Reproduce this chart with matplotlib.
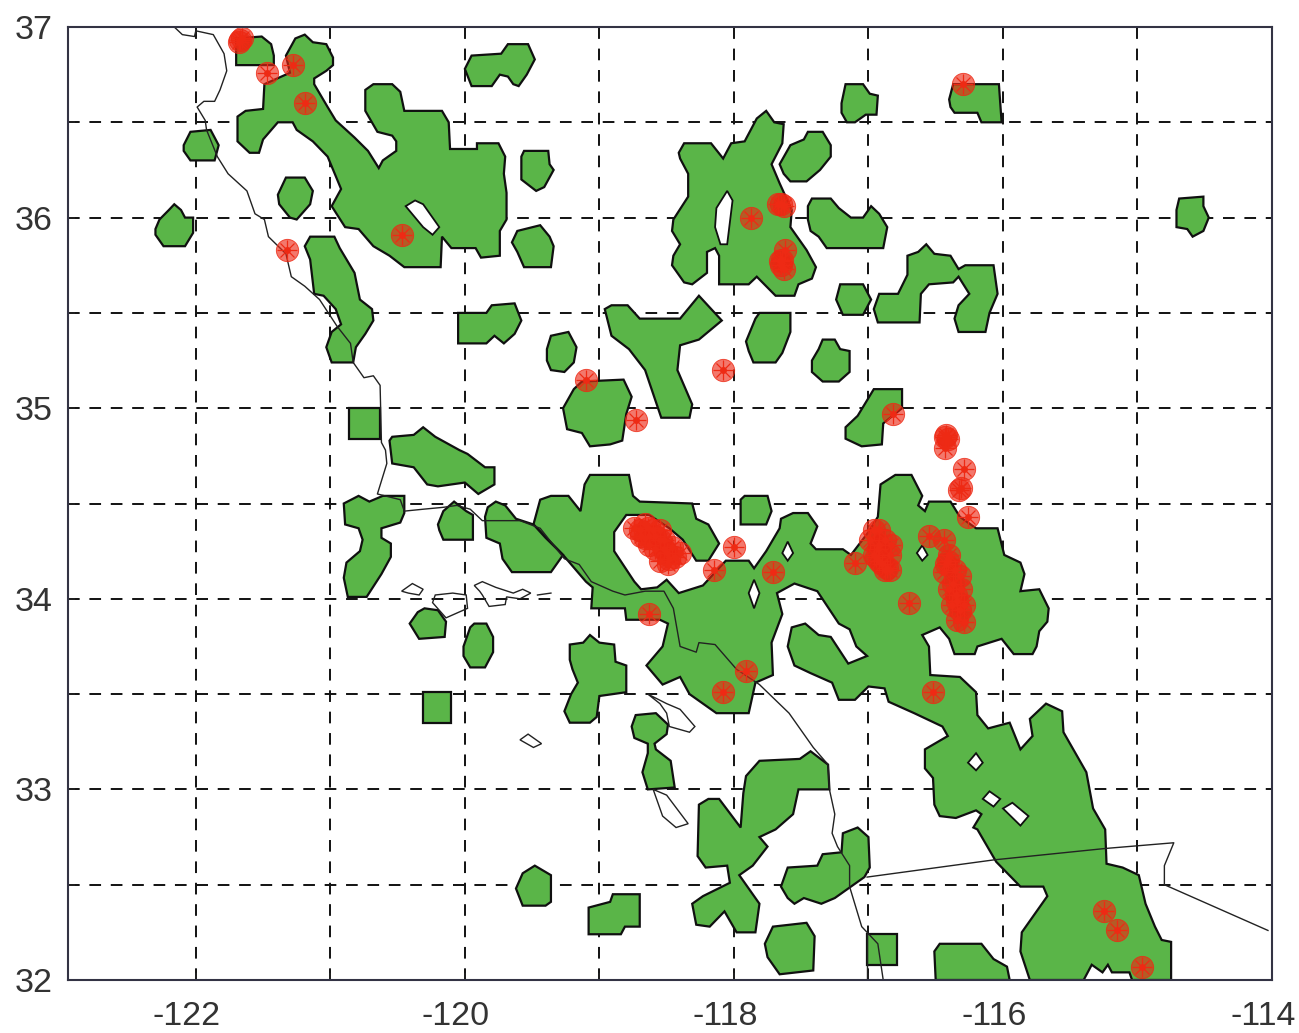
"""Fire points over green vegetation patches, southern California map."""
import matplotlib
matplotlib.use("Agg")
import matplotlib.pyplot as plt
from matplotlib.transforms import ScaledTranslation

plt.rcParams["font.family"] = ["Liberation Sans", "DejaVu Sans"]

GREEN = "#5ab548"
RED = "#ee2a14"

# all shapes below are (lon, lat)
top_square = [(-121.70,36.80),(-121.70,36.94),(-121.51,36.95),(-121.44,36.91),(-121.42,36.85),(-121.42,36.80)]
big_sierra = [(-121.26,36.94),(-121.19,36.96),(-121.13,36.92),(-121.03,36.91),(-120.98,36.84),(-120.98,36.80),
    (-121.03,36.77),(-121.12,36.73),(-121.12,36.70),(-121.02,36.58),(-120.96,36.51),(-120.82,36.42),(-120.72,36.35),
    (-120.64,36.26),(-120.61,36.30),(-120.51,36.35),(-120.51,36.40),(-120.54,36.43),(-120.65,36.45),(-120.74,36.56),
    (-120.74,36.67),(-120.68,36.70),(-120.54,36.70),(-120.48,36.66),(-120.45,36.56),(-120.17,36.56),(-120.12,36.50),
    (-120.11,36.36),(-119.91,36.36),(-119.91,36.39),(-119.75,36.39),(-119.70,36.32),(-119.71,36.23),(-119.69,36.13),
    (-119.69,35.99),(-119.74,35.93),(-119.74,35.80),(-119.88,35.79),(-119.92,35.84),(-120.10,35.84),(-120.17,35.90),
    (-120.18,35.74),(-120.45,35.74),(-120.56,35.80),(-120.68,35.85),(-120.79,35.94),(-120.89,35.95),(-120.99,36.06),
    (-120.92,36.15),(-121.02,36.32),(-121.13,36.40),(-121.25,36.46),(-121.28,36.50),(-121.39,36.50),(-121.50,36.41),
    (-121.53,36.34),(-121.60,36.34),(-121.69,36.40),(-121.69,36.53),(-121.63,36.56),(-121.50,36.57),(-121.49,36.70),
    (-121.30,36.76),(-121.33,36.85)]
north_blob = [(-120.00,36.78),(-119.95,36.85),(-119.73,36.86),(-119.68,36.91),(-119.53,36.91),(-119.48,36.83),
    (-119.54,36.75),(-119.60,36.69),(-119.64,36.70),(-119.68,36.74),(-119.74,36.75),(-119.80,36.69),(-119.95,36.69)]
bay_blob = [(-122.09,36.38),(-122.04,36.45),(-121.89,36.46),(-121.83,36.38),(-121.86,36.30),(-122.04,36.30),(-122.09,36.35)]
coast_blob = [(-121.39,36.12),(-121.33,36.21),(-121.19,36.21),(-121.13,36.14),(-121.15,36.07),(-121.25,35.99),(-121.30,36.00),(-121.38,36.07)]
west_blob = [(-122.30,35.94),(-122.27,35.99),(-122.20,36.04),(-122.16,36.07),(-122.11,36.04),(-122.08,36.00),(-122.02,36.00),
    (-122.02,35.92),(-122.08,35.85),(-122.24,35.85),(-122.30,35.91)]
fresno_a = [(-119.65,35.87),(-119.61,35.93),(-119.44,35.96),(-119.37,35.90),(-119.34,35.85),(-119.36,35.74),(-119.56,35.74),(-119.61,35.82)]
fresno_b = [(-119.58,36.32),(-119.56,36.35),(-119.38,36.35),(-119.37,36.28),(-119.34,36.25),(-119.41,36.16),(-119.47,36.14),(-119.58,36.20)]
coast_strip = [(-121.19,35.85),(-121.15,35.90),(-120.97,35.90),(-120.93,35.84),(-120.82,35.71),(-120.78,35.57),(-120.69,35.52),
    (-120.68,35.46),(-120.74,35.39),(-120.81,35.32),(-120.83,35.24),(-120.99,35.24),(-121.03,35.32),(-120.99,35.40),
    (-120.92,35.44),(-120.96,35.52),(-121.05,35.59),(-121.12,35.60),(-121.15,35.78)]
slo_square = [(-120.86,35.00),(-120.63,35.00),(-120.63,34.84),(-120.86,34.84)]
san_rafael = [(-120.56,34.83),(-120.54,34.85),(-120.38,34.86),(-120.31,34.90),(-120.22,34.85),(-120.04,34.78),(-119.98,34.76),
    (-119.85,34.69),(-119.78,34.69),(-119.78,34.60),(-119.90,34.55),(-120.00,34.61),(-120.20,34.59),(-120.28,34.60),(-120.38,34.69),(-120.54,34.71)]
kern_blob = [(-120.05,35.50),(-119.84,35.50),(-119.80,35.54),(-119.63,35.55),(-119.58,35.46),(-119.63,35.39),(-119.71,35.34),
    (-119.78,35.38),(-119.84,35.34),(-120.05,35.34)]
oval_blob = [(-119.39,35.31),(-119.36,35.38),(-119.23,35.40),(-119.17,35.32),(-119.19,35.24),(-119.26,35.19),(-119.36,35.20),(-119.39,35.25)]
tejon_blob = [(-119.27,35.00),(-119.19,35.10),(-119.13,35.14),(-118.82,35.15),(-118.76,35.06),(-118.80,34.97),(-118.83,34.83),
    (-118.92,34.81),(-119.07,34.80),(-119.13,34.87),(-119.24,34.89)]
y_blob = [(-118.96,35.52),(-118.91,35.54),(-118.79,35.54),(-118.70,35.47),(-118.40,35.47),(-118.26,35.59),(-118.09,35.46),
    (-118.26,35.36),(-118.40,35.33),(-118.42,35.20),(-118.31,35.02),(-118.33,34.95),(-118.54,34.95),(-118.66,35.20),
    (-118.78,35.31),(-118.91,35.38)]
inyo_a = [(-117.20,36.60),(-117.17,36.70),(-117.04,36.70),(-116.99,36.65),(-116.93,36.64),(-116.94,36.54),(-117.02,36.54),
    (-117.10,36.50),(-117.16,36.50),(-117.20,36.55)]
inyo_b = [(-116.40,36.62),(-116.37,36.70),(-116.03,36.70),(-116.01,36.50),(-116.16,36.50),(-116.19,36.55),(-116.36,36.55),(-116.39,36.58)]
owens = [(-118.41,36.34),(-118.37,36.39),(-118.17,36.39),(-118.08,36.31),(-118.02,36.39),(-117.92,36.40),(-117.83,36.52),
    (-117.76,36.56),(-117.70,36.50),(-117.63,36.49),(-117.64,36.39),(-117.72,36.28),(-117.66,36.18),(-117.57,36.04),
    (-117.58,35.95),(-117.46,35.83),(-117.39,35.74),(-117.42,35.68),(-117.52,35.65),(-117.55,35.59),(-117.69,35.59),
    (-117.83,35.69),(-117.89,35.65),(-118.11,35.65),(-118.11,35.80),(-118.14,35.84),(-118.20,35.82),(-118.20,35.71),
    (-118.31,35.65),(-118.37,35.66),(-118.46,35.75),(-118.45,35.80),(-118.40,35.86),(-118.46,35.93),(-118.45,35.99),
    (-118.34,36.11),(-118.34,36.23),(-118.40,36.31)]
owens_ne = [(-117.66,36.28),(-117.58,36.38),(-117.48,36.41),(-117.45,36.45),(-117.34,36.45),(-117.28,36.38),(-117.28,36.32),
    (-117.36,36.25),(-117.46,36.19),(-117.58,36.19),(-117.63,36.23)]
c_blob = [(-117.45,36.06),(-117.42,36.10),(-117.28,36.10),(-117.22,36.05),(-117.13,36.00),(-117.04,36.00),(-116.98,36.06),
    (-116.92,36.02),(-116.86,35.95),(-116.89,35.84),(-117.31,35.84),(-117.37,35.90),(-117.43,35.93),(-117.45,35.99)]
small_round = [(-117.24,35.57),(-117.21,35.65),(-117.04,35.65),(-116.98,35.57),(-117.04,35.49),(-117.19,35.49)]
m_blob = [(-116.96,35.52),(-116.92,35.60),(-116.78,35.60),(-116.71,35.70),(-116.71,35.80),(-116.63,35.82),(-116.57,35.86),
    (-116.51,35.81),(-116.39,35.80),(-116.33,35.73),(-116.28,35.75),(-116.07,35.75),(-116.04,35.60),(-116.10,35.50),
    (-116.13,35.40),(-116.33,35.40),(-116.36,35.47),(-116.33,35.54),(-116.25,35.60),(-116.33,35.69),(-116.37,35.66),
    (-116.55,35.65),(-116.61,35.60),(-116.62,35.45),(-116.93,35.45)]
mojave_a = [(-117.91,35.35),(-117.84,35.47),(-117.81,35.50),(-117.58,35.50),(-117.58,35.40),(-117.64,35.29),(-117.69,35.24),
    (-117.855,35.24),(-117.89,35.30)]
mojave_b = [(-117.42,35.25),(-117.37,35.31),(-117.34,35.36),(-117.25,35.36),(-117.21,35.31),(-117.14,35.30),(-117.14,35.19),
    (-117.22,35.14),(-117.34,35.14),(-117.42,35.19)]
barstow = [(-117.17,34.90),(-117.08,34.96),(-116.96,35.10),(-116.75,35.10),(-116.75,35.00),(-116.89,34.92),(-116.90,34.81),
    (-117.05,34.80),(-117.17,34.84)]
far_east = [(-114.71,36.04),(-114.69,36.10),(-114.51,36.11),(-114.51,36.06),(-114.47,36.00),(-114.51,35.93),(-114.59,35.90),
    (-114.63,35.94),(-114.71,35.95)]
vandenberg = [(-120.90,34.50),(-120.79,34.54),(-120.71,34.51),(-120.61,34.54),(-120.45,34.54),(-120.45,34.45),(-120.48,34.40),
    (-120.62,34.37),(-120.62,34.32),(-120.55,34.29),(-120.55,34.22),(-120.62,34.13),(-120.73,34.01),(-120.87,34.01),
    (-120.90,34.11),(-120.88,34.19),(-120.78,34.25),(-120.76,34.31),(-120.79,34.37),(-120.89,34.39)]
gaviota = [(-120.20,34.39),(-120.16,34.46),(-120.08,34.51),(-119.99,34.46),(-119.94,34.44),(-119.94,34.31),(-120.16,34.31),(-120.19,34.36)]
santa_ynez = [(-119.85,34.43),(-119.83,34.48),(-119.77,34.51),(-119.70,34.49),(-119.62,34.42),(-119.49,34.39),(-119.40,34.32),
    (-119.27,34.23),(-119.36,34.14),(-119.65,34.14),(-119.72,34.21),(-119.74,34.29),(-119.84,34.32)]
socal_main = [(-119.49,34.39),(-119.44,34.52),(-119.36,34.54),(-119.23,34.54),(-119.14,34.46),(-119.11,34.60),(-119.07,34.65),
    (-118.78,34.65),(-118.75,34.54),(-118.70,34.51),(-118.31,34.50),(-118.28,34.42),(-118.19,34.39),(-118.11,34.29),
    (-118.19,34.20),(-118.28,34.20),(-118.38,34.31),(-118.48,34.37),(-118.63,34.44),(-118.80,34.44),(-118.89,34.35),
    (-118.89,34.25),(-118.74,34.09),(-118.69,34.05),(-118.57,34.06),(-118.50,34.10),(-118.41,34.03),(-118.23,34.07),
    (-118.06,34.20),(-117.89,34.20),(-117.85,34.16),(-117.76,34.25),(-117.66,34.37),(-117.65,34.42),(-117.56,34.45),
    (-117.45,34.45),(-117.38,34.38),(-117.43,34.29),(-117.39,34.26),(-117.19,34.26),(-117.13,34.23),(-117.00,34.35),
    (-116.93,34.43),(-116.91,34.60),(-116.80,34.65),(-116.68,34.65),(-116.60,34.54),(-116.63,34.49),(-116.58,34.46),
    (-116.55,34.51),(-116.39,34.51),(-116.32,34.43),(-116.20,34.37),(-116.04,34.37),(-115.99,34.23),(-115.87,34.19),
    (-115.84,34.13),(-115.87,34.04),(-115.73,34.05),(-115.66,33.95),(-115.67,33.88),(-115.73,33.83),(-115.75,33.75),
    (-115.78,33.71),(-115.92,33.71),(-116.01,33.79),(-116.19,33.75),(-116.21,33.71),(-116.36,33.71),(-116.40,33.79),
    (-116.47,33.85),(-116.60,33.81),(-116.55,33.75),(-116.54,33.60),(-116.32,33.59),(-116.20,33.51),(-116.19,33.39),
    (-116.11,33.32),(-115.95,33.35),(-115.87,33.21),(-115.78,33.28),(-115.80,33.37),(-115.68,33.45),(-115.56,33.41),
    (-115.55,33.30),(-115.38,33.09),(-115.33,32.90),(-115.24,32.79),(-115.23,32.61),(-115.11,32.59),(-114.99,32.55),
    (-114.94,32.40),(-114.87,32.28),(-114.82,32.21),(-114.75,32.20),(-114.75,32.00),(-115.04,32.00),(-115.06,32.04),
    (-115.19,32.04),(-115.22,32.08),(-115.26,32.04),(-115.34,32.08),(-115.40,32.00),(-115.80,32.00),(-115.87,32.15),
    (-115.86,32.25),(-115.67,32.44),(-115.70,32.49),(-115.87,32.49),(-116.05,32.62),(-116.19,32.79),(-116.22,32.80),
    (-116.16,32.87),(-116.20,32.89),(-116.35,32.85),(-116.47,32.86),(-116.51,32.92),(-116.52,33.06),(-116.58,33.11),
    (-116.58,33.21),(-116.41,33.28),(-116.45,33.33),(-116.66,33.40),(-116.85,33.46),(-116.88,33.53),(-117.00,33.54),
    (-117.10,33.47),(-117.22,33.47),(-117.27,33.56),(-117.43,33.61),(-117.55,33.65),(-117.60,33.75),(-117.57,33.85),
    (-117.47,33.87),(-117.37,33.81),(-117.28,33.80),(-117.15,33.66),(-117.01,33.70),(-117.09,33.75),(-117.14,33.84),
    (-117.22,33.87),(-117.38,34.04),(-117.55,34.08),(-117.68,34.03),(-117.64,33.92),(-117.72,33.77),(-117.71,33.60),
    (-117.84,33.56),(-117.89,33.40),(-118.13,33.40),(-118.33,33.50),(-118.40,33.59),(-118.53,33.55),(-118.65,33.65),
    (-118.53,33.75),(-118.49,33.87),(-118.55,33.89),(-118.80,33.89),(-118.81,33.95),(-119.06,33.95),(-119.05,34.06),
    (-119.10,34.09),(-119.27,34.23)]
small_square = [(-117.95,34.52),(-117.92,34.54),(-117.75,34.54),(-117.72,34.46),(-117.76,34.39),(-117.95,34.39)]
miguel_blob = [(-120.41,33.87),(-120.35,33.93),(-120.30,33.95),(-120.20,33.94),(-120.14,33.88),(-120.15,33.80),(-120.34,33.79)]
rosa_blob = [(-120.01,33.75),(-119.96,33.85),(-119.93,33.87),(-119.84,33.87),(-119.79,33.80),(-119.79,33.72),(-119.85,33.64),
    (-119.96,33.64),(-120.01,33.70)]
sea_square = [(-120.31,33.51),(-120.10,33.51),(-120.10,33.35),(-120.31,33.35)]
sea_blob = [(-119.22,33.76),(-119.12,33.77),(-119.07,33.81),(-119.00,33.77),(-118.89,33.76),(-118.88,33.67),(-118.80,33.65),
    (-118.80,33.51),(-119.00,33.49),(-119.02,33.38),(-119.07,33.35),(-119.22,33.35),(-119.26,33.41),(-119.21,33.50),
    (-119.16,33.56),(-119.20,33.63),(-119.22,33.68)]
catalina_blob = [(-118.76,33.33),(-118.73,33.39),(-118.58,33.40),(-118.49,33.34),(-118.50,33.29),(-118.59,33.24),(-118.58,33.21),
    (-118.47,33.15),(-118.44,33.01),(-118.64,33.00),(-118.68,33.09),(-118.64,33.19),(-118.64,33.24),(-118.74,33.27)]
cross_blob = [(-118.26,32.92),(-118.19,32.95),(-118.11,32.95),(-117.95,32.80),(-117.93,32.98),(-117.91,33.07),(-117.81,33.15),
    (-117.51,33.16),(-117.43,33.20),(-117.30,33.13),(-117.29,33.00),(-117.52,33.00),(-117.56,32.87),(-117.69,32.79),
    (-117.81,32.75),(-117.75,32.70),(-117.86,32.60),(-117.96,32.55),(-117.81,32.40),(-117.84,32.25),(-117.98,32.25),
    (-118.07,32.36),(-118.18,32.28),(-118.28,32.29),(-118.31,32.40),(-118.23,32.44),(-118.03,32.51),(-118.05,32.60),
    (-118.21,32.59),(-118.27,32.65)]
round_a = [(-119.62,32.48),(-119.57,32.56),(-119.48,32.60),(-119.36,32.55),(-119.36,32.41),(-119.40,32.39),(-119.57,32.39)]
step_blob = [(-119.08,32.38),(-118.92,32.41),(-118.90,32.45),(-118.70,32.45),(-118.70,32.28),(-118.81,32.28),(-118.84,32.24),(-119.08,32.24)]
round_b = [(-117.77,32.19),(-117.71,32.28),(-117.46,32.30),(-117.40,32.23),(-117.41,32.05),(-117.66,32.03),(-117.75,32.12)]
tijuana = [(-117.65,32.49),(-117.60,32.59),(-117.38,32.60),(-117.34,32.66),(-117.20,32.67),(-117.19,32.77),(-117.08,32.80),
    (-117.00,32.75),(-116.99,32.59),(-117.03,32.54),(-117.13,32.49),(-117.25,32.43),(-117.35,32.40),(-117.48,32.43),
    (-117.55,32.40),(-117.60,32.43)]
border_square = [(-117.01,32.24),(-116.79,32.24),(-116.79,32.08),(-117.01,32.08)]
south_blob = [(-116.51,32.15),(-116.47,32.19),(-116.16,32.19),(-116.07,32.11),(-115.97,32.07),(-115.95,32.00),(-116.50,32.00)]

green_patches = [top_square, big_sierra, north_blob, bay_blob, coast_blob, west_blob, fresno_a, fresno_b, coast_strip,
    slo_square, san_rafael, kern_blob, oval_blob, tejon_blob, y_blob, inyo_a, inyo_b, owens, owens_ne, c_blob, small_round,
    m_blob, mojave_a, mojave_b, barstow, far_east, vandenberg, gaviota, socal_main, santa_ynez, small_square, miguel_blob,
    rosa_blob, sea_square, sea_blob, catalina_blob, cross_blob, round_a, step_blob, round_b, tijuana, border_square, south_blob]

holes = [
    [(-120.44,36.06),(-120.37,36.09),(-120.31,36.07),(-120.19,35.95),(-120.24,35.91),(-120.31,35.95)],
    [(-118.13,36.05),(-118.05,36.14),(-118.01,36.09),(-118.05,35.86),(-118.10,35.86),(-118.14,35.95)],
    [(-117.89,34.03),(-117.85,34.10),(-117.81,34.03),(-117.85,33.95)],
    [(-117.64,34.24),(-117.60,34.30),(-117.56,34.24),(-117.60,34.20)],
    [(-116.64,34.24),(-116.60,34.28),(-116.56,34.23),(-116.60,34.20)],
    [(-116.26,33.14),(-116.20,33.19),(-116.15,33.14),(-116.20,33.10)],
    [(-116.15,32.95),(-116.10,32.99),(-116.02,32.95),(-116.07,32.91)],
    [(-116.00,32.90),(-115.93,32.93),(-115.81,32.86),(-115.87,32.81)],
]

coast_north = [(-122.16,37.00),(-122.10,36.96),(-122.01,36.95),(-122.00,36.98),(-121.87,36.96),(-121.79,36.86),(-121.77,36.77),
    (-121.82,36.67),(-121.86,36.61),(-121.94,36.61),(-121.99,36.58),(-121.93,36.51),(-121.92,36.46),(-121.84,36.32),
    (-121.76,36.23),(-121.62,36.14),(-121.56,36.02),(-121.49,35.99),(-121.46,35.90),(-121.33,35.81),(-121.29,35.69),
    (-121.19,35.64),(-121.08,35.57),(-120.95,35.43),(-120.85,35.34),(-120.83,35.24),(-120.75,35.16),(-120.68,35.17),
    (-120.63,35.12),(-120.62,34.82),(-120.59,34.78),(-120.58,34.71),(-120.65,34.55),(-120.48,34.52),(-120.45,34.46),
    (-120.31,34.47),(-120.16,34.48),(-120.06,34.49),(-119.96,34.47),(-119.87,34.41),(-119.59,34.41),(-119.44,34.37),
    (-119.26,34.21),(-119.15,34.18),(-119.06,34.09),(-118.90,34.04),(-118.81,34.02),(-118.66,34.04),(-118.52,34.04),
    (-118.45,33.95),(-118.40,33.75),(-118.28,33.72),(-118.26,33.77),(-118.14,33.76),(-117.98,33.63),(-117.81,33.55),
    (-117.59,33.40),(-117.41,33.22),(-117.30,33.13),(-117.29,33.00),(-117.25,32.87),(-117.27,32.77),(-117.23,32.70),
    (-117.14,32.60),(-117.14,32.49),(-117.05,32.28),(-116.93,32.19),(-116.89,32.00)]
mexico_border = [(-117.01,32.54),(-116.07,32.63),(-115.24,32.69),(-114.73,32.72),(-114.80,32.60),(-114.80,32.50),(-114.03,32.26)]
square_edge = [(-117.01,32.24),(-117.01,32.00)]
anacapa = [(-119.46,34.02),(-119.36,34.03)]
coast_lines = [coast_north, mexico_border, square_edge, anacapa]

san_miguel = [(-120.47,34.04),(-120.39,34.08),(-120.31,34.05),(-120.34,34.02),(-120.42,34.03)]
santa_rosa = [(-120.22,34.02),(-120.09,34.03),(-119.99,34.02),(-119.98,33.95),(-120.14,33.90),(-120.24,33.98)]
santa_cruz = [(-119.93,34.07),(-119.87,34.09),(-119.77,34.06),(-119.64,34.03),(-119.57,34.05),(-119.51,34.03),(-119.59,34.00),
    (-119.69,34.01),(-119.70,33.97),(-119.82,33.96),(-119.87,34.02),(-119.89,34.04)]
san_nicolas = [(-119.59,33.26),(-119.53,33.29),(-119.43,33.24),(-119.49,33.22)]
catalina = [(-118.64,33.50),(-118.50,33.45),(-118.40,33.42),(-118.29,33.33),(-118.33,33.30),(-118.48,33.33),(-118.50,33.40),(-118.55,33.45)]
san_clemente = [(-118.60,33.00),(-118.50,32.97),(-118.34,32.82),(-118.43,32.80),(-118.53,32.86)]
islands = [san_miguel, santa_rosa, santa_cruz, san_nicolas, catalina, san_clemente]

fire_lon = [-121.67,-121.66,-121.68,-121.47,-121.28,-121.19,-120.47,-121.32,-119.10,-118.73,-118.08,-117.87,
    -117.65,-117.63,-117.67,-117.64,-117.62,-117.65,-117.63,-117.66,-116.30,-116.82,
    -116.42,-116.41,-116.43,-116.43,-116.29,-116.31,-116.33,-116.26,
    -118.70,-118.64,-118.59,-118.55,-118.63,-118.52,-118.48,-118.55,-118.69,-118.74,-118.66,-118.60,-118.50,-118.44,
    -118.66,-118.63,-118.55,-118.52,-118.46,-118.59,-118.40,-118.49,
    -118.00,-118.15,-117.71,-118.63,-117.91,-118.08,-116.52,-116.70,
    -117.10,-116.92,-116.92,-116.96,-116.84,-116.88,-116.99,-116.90,-116.86,-116.94,
    -116.96,-116.88,-116.93,-116.84,-116.92,-116.83,
    -116.55,-116.44,-116.40,-116.44,-116.32,-116.40,-116.34,-116.32,-116.29,-116.37,-116.42,-116.35,
    -116.36,-116.31,-116.38,-116.29,-116.34,-116.41,
    -115.25,-115.15,-114.97]
fire_lat = [36.93,36.94,36.92,36.76,36.80,36.60,35.91,35.83,35.15,34.94,35.20,36.00,
    36.07,36.06,36.07,35.78,35.83,35.75,35.73,35.77,36.70,34.97,
    34.86,34.84,34.79,34.85,34.68,34.58,34.57,34.43,
    34.36,34.37,34.33,34.31,34.28,34.26,34.21,34.20,34.33,34.37,34.32,34.36,34.24,34.22,
    34.39,34.33,34.36,34.31,34.27,34.26,34.24,34.18,
    34.27,34.15,34.14,33.92,33.62,33.51,33.51,33.98,
    34.19,34.36,34.28,34.23,34.23,34.15,34.31,34.18,34.16,34.22,
    34.36,34.31,34.26,34.15,34.20,34.28,
    34.33,34.31,34.23,34.14,34.12,34.05,33.99,33.94,33.88,34.08,34.18,34.02,
    34.15,34.05,33.97,33.97,33.89,34.20,
    32.36,32.26,32.07]

lon_ticks = [-122, -121, -120, -119, -118, -117, -116, -115, -114]
lon_labels = ["-122", "", "-120", "", "-118", "", "-116", "", "-114"]
lat_ticks = [32, 32.5, 33, 33.5, 34, 34.5, 35, 35.5, 36, 36.5, 37]
lat_labels = ["32", "", "33", "", "34", "", "35", "", "36", "", "37"]

fig = plt.figure(figsize=(12.99, 10.33), dpi=100)
ax = fig.add_axes([68 / 1299, 1 - 980 / 1033, (1272 - 68) / 1299, (980 - 27) / 1033])

ax.grid(True, color="#111111", lw=1.4, linestyle=(0, (6, 5)), zorder=1)
ax.set_axisbelow(True)

for poly in green_patches:
    xs, ys = zip(*poly)
    ax.fill(xs, ys, facecolor=GREEN, edgecolor="#101010", lw=1.6, zorder=2)
for poly in holes:
    xs, ys = zip(*poly)
    ax.fill(xs, ys, facecolor="white", edgecolor="#101010", lw=1.3, zorder=2.2)
for line in coast_lines:
    xs, ys = zip(*line)
    ax.plot(xs, ys, color="#222222", lw=1.0, zorder=3)
for poly in islands:
    xs, ys = zip(*poly)
    ax.fill(xs, ys, facecolor="none", edgecolor="#222222", lw=1.0, zorder=3)

# marker = open circle with a plus and a cross inside, as overlaid symbols
ax.plot(fire_lon, fire_lat, ls="none", marker="o", ms=16, mfc=(0.93, 0.15, 0.07, 0.62), mec=(0.93, 0.16, 0.08, 0.8), mew=0.7, zorder=4, clip_on=False)
ax.plot(fire_lon, fire_lat, ls="none", marker="+", ms=15, mec=RED, mew=0.9, zorder=4, clip_on=False)
ax.plot(fire_lon, fire_lat, ls="none", marker="x", ms=10, mec=RED, mew=0.9, zorder=4, clip_on=False)
ax.plot(fire_lon, fire_lat, ls="none", marker="o", ms=5, mfc=RED, mec="none", zorder=4, clip_on=False)

ax.set_xlim(-122.95, -114)
ax.set_ylim(32, 37)
ax.set_xticks(lon_ticks)
ax.set_xticklabels(lon_labels)
ax.set_yticks(lat_ticks)
ax.set_yticklabels(lat_labels)
ax.tick_params(direction="in", length=5, width=1.2, labelsize=24.5, labelcolor="#333333", color="#222222")
ax.tick_params(axis="x", pad=15)
ax.tick_params(axis="y", pad=11)
shift = ScaledTranslation(-9 / 100, 0, fig.dpi_scale_trans)
for lab in ax.get_xticklabels():
    lab.set_transform(lab.get_transform() + shift)
for sp in ax.spines.values():
    sp.set_linewidth(1.5)
    sp.set_color("#333344")
    sp.set_zorder(5)

fig.savefig("out.png", dpi=100)
